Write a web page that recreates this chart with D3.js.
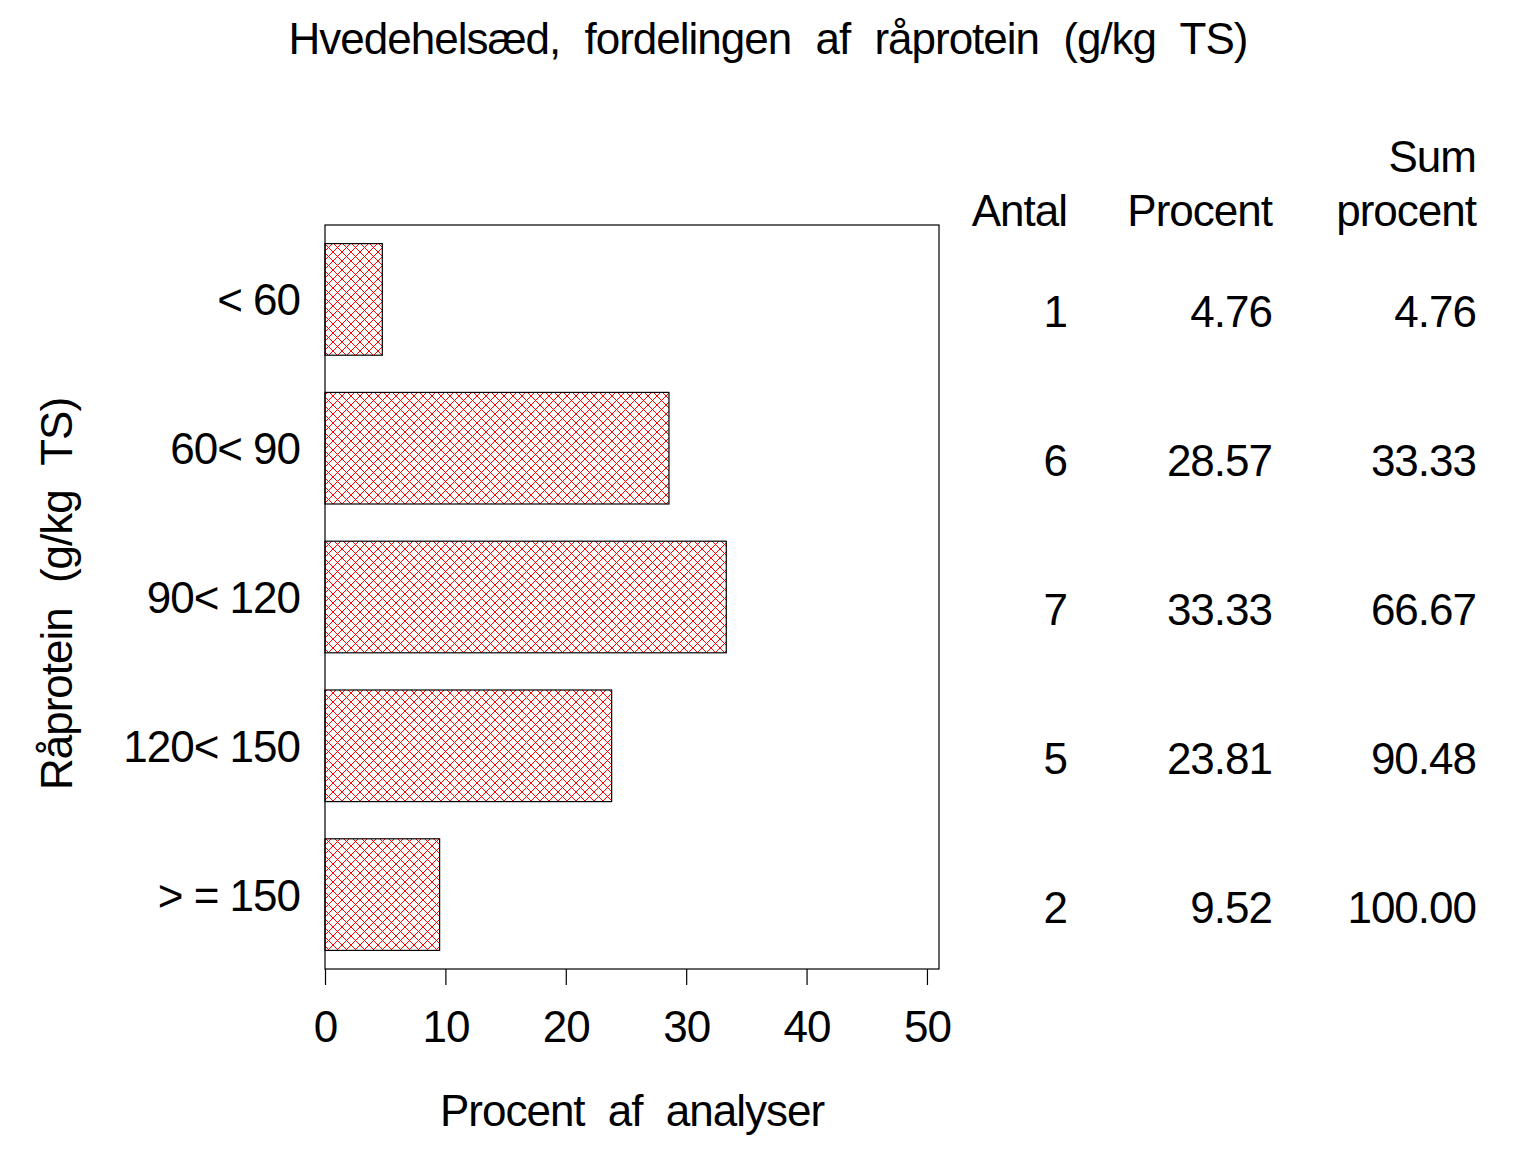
<!DOCTYPE html>
<html>
<head>
<meta charset="utf-8">
<script src="https://cdn.jsdelivr.net/npm/d3@7"></script>
<style>
  body { margin: 0; background: #fff; }
  text { font-family: 'Liberation Sans', Arial, sans-serif; fill: #000; }
</style>
</head>
<body>
<div class="chart"></div>
<script>
// chart data
const categories = ['< 60', '60< 90', '90< 120', '120< 150', '> = 150'];
const counts = [1, 6, 7, 5, 2];
const percents = [4.76, 28.57, 33.33, 23.81, 9.52];
const cumPercents = [4.76, 33.33, 66.67, 90.48, 100.00];
const xTicks = [0, 10, 20, 30, 40, 50];

const width = 1536, height = 1152;
const frame = { left: 325, right: 939, top: 225, bottom: 969 };

const svg = d3.select('.chart')
  .append('svg')
  .attr('width', width)
  .attr('height', height);

// hatch pattern for bars
const defs = svg.append('defs');
const pat = defs.append('pattern')
  .attr('id', 'hatch')
  .attr('patternUnits', 'userSpaceOnUse')
  .attr('width', 9)
  .attr('height', 9);
pat.append('path')
  .attr('d', 'M0,0 L9,9 M9,0 L0,9 M-1,8 L1,10 M8,-1 L10,1 M-1,1 L1,-1 M8,10 L10,8')
  .attr('stroke', '#ff0000')
  .attr('stroke-width', 1)
  .attr('shape-rendering', 'crispEdges');

const xScale = d3.scaleLinear()
  .domain([0, 51])
  .range([frame.left, frame.right]);

const yScale = d3.scaleBand()
  .domain(categories)
  .range([frame.top, frame.bottom])
  .paddingInner(0.25)
  .paddingOuter(0.125);

// bars
svg.selectAll('.bar')
  .data(categories)
  .enter()
  .append('rect')
  .attr('class', 'bar')
  .attr('x', xScale(0))
  .attr('y', d => yScale(d))
  .attr('width', (d, i) => xScale(percents[i]) - xScale(0))
  .attr('height', yScale.bandwidth())
  .attr('fill', 'url(#hatch)')
  .attr('stroke', '#000')
  .attr('stroke-width', 1.2);

// frame
svg.append('rect')
  .attr('x', frame.left)
  .attr('y', frame.top)
  .attr('width', frame.right - frame.left)
  .attr('height', frame.bottom - frame.top)
  .attr('fill', 'none')
  .attr('stroke', '#000')
  .attr('stroke-width', 1.2);

// x axis below frame
const xAxis = svg.append('g')
  .attr('transform', 'translate(0,' + frame.bottom + ')')
  .call(d3.axisBottom(xScale).tickValues(xTicks).tickSize(16).tickPadding(26));
xAxis.select('.domain').remove();
xAxis.selectAll('line').attr('stroke', '#000').attr('stroke-width', 1.2);
xAxis.selectAll('text')
  .style('font-size', '44px')
  .style('font-family', "'Liberation Sans', Arial, sans-serif")
  .style('letter-spacing', '-1px')
  .attr('fill', '#000');

// category labels
svg.selectAll('.catLabel')
  .data(categories)
  .enter()
  .append('text')
  .attr('class', 'catLabel')
  .attr('x', 300)
  .attr('y', d => yScale(d) + yScale.bandwidth() / 2 + 16)
  .attr('text-anchor', 'end')
  .style('font-size', '44px')
  .style('letter-spacing', '-1px')
  .text(d => d);

// table columns
const columns = [
  { x: 1067, head: ['', 'Antal'], values: counts.map(String) },
  { x: 1272, head: ['', 'Procent'], values: percents.map(v => v.toFixed(2)) },
  { x: 1476, head: ['Sum', 'procent'], values: cumPercents.map(v => v.toFixed(2)) }
];

columns.forEach(col => {
  svg.append('text')
    .attr('x', col.x).attr('y', 172)
    .attr('text-anchor', 'end')
    .style('font-size', '44px')
    .style('letter-spacing', '-1px')
    .text(col.head[0]);
  svg.append('text')
    .attr('x', col.x).attr('y', 226)
    .attr('text-anchor', 'end')
    .style('font-size', '44px')
    .style('letter-spacing', '-1px')
    .text(col.head[1]);
  svg.selectAll(null)
    .data(col.values)
    .enter()
    .append('text')
    .attr('x', col.x)
    .attr('y', (d, i) => yScale(categories[i]) + yScale.bandwidth() / 2 + 28)
    .attr('text-anchor', 'end')
    .style('font-size', '44px')
    .style('letter-spacing', '-1px')
    .text(d => d);
});

// title
svg.append('text')
  .attr('x', 768)
  .attr('y', 54)
  .attr('text-anchor', 'middle')
  .style('font-size', '44px')
  .style('letter-spacing', '-1px')
  .style('word-spacing', '13px')
  .text('Hvedehelsæd, fordelingen af råprotein (g/kg TS)');

// x axis title
svg.append('text')
  .attr('x', (frame.left + frame.right) / 2)
  .attr('y', 1126)
  .attr('text-anchor', 'middle')
  .style('font-size', '44px')
  .style('letter-spacing', '-1px')
  .style('word-spacing', '12px')
  .text('Procent af analyser');

// y axis title
svg.append('text')
  .attr('transform', 'translate(72,594) rotate(-90)')
  .attr('text-anchor', 'middle')
  .style('font-size', '44px')
  .style('letter-spacing', '-1px')
  .style('word-spacing', '14px')
  .text('Råprotein (g/kg TS)');
</script>
</body>
</html>
